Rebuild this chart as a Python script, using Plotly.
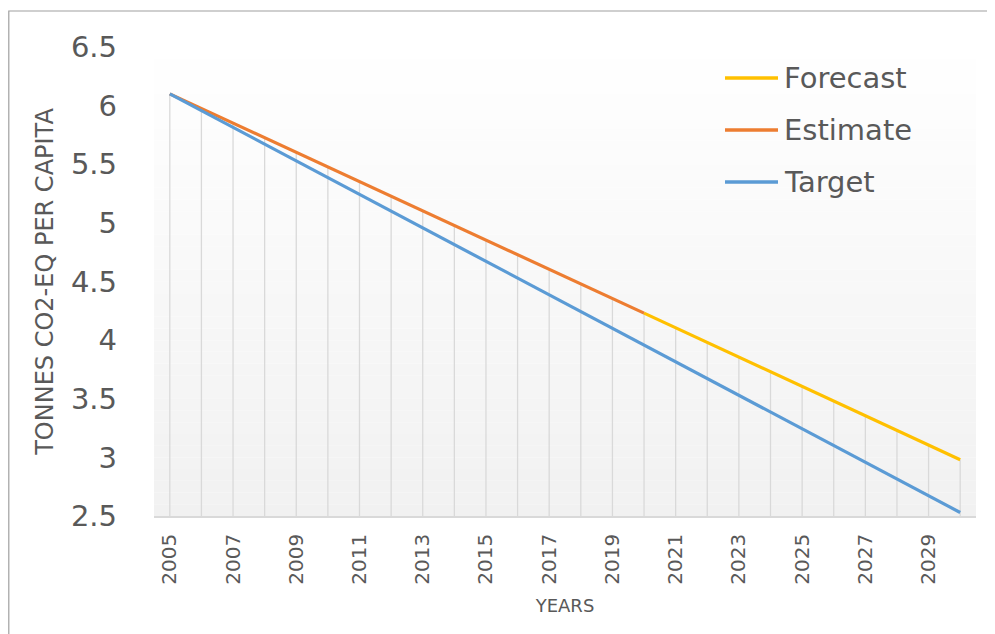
import plotly.graph_objects as go

years = list(range(2005, 2031))
target = [6.100, 5.957, 5.814, 5.672, 5.529, 5.386, 5.243, 5.100, 4.958, 4.815, 4.672,
          4.529, 4.386, 4.243, 4.101, 3.958, 3.815, 3.672, 3.529, 3.386, 3.244, 3.101,
          2.958, 2.815, 2.672, 2.530]
estimate_years = list(range(2005, 2021))
estimate = [6.100, 5.975, 5.851, 5.726, 5.601, 5.477, 5.352, 5.227, 5.103, 4.978,
            4.853, 4.729, 4.604, 4.479, 4.355, 4.230]
forecast_years = list(range(2020, 2031))
forecast = [4.230, 4.105, 3.980, 3.855, 3.730, 3.605, 3.480, 3.355, 3.230, 3.105, 2.980]

series_names = ["Forecast", "Estimate", "Target"]
series_colors = ["#FFC000", "#ED7D31", "#5B9BD5"]

y_min, y_max = 2.5, 6.5
y_ticks = [2.5, 3, 3.5, 4, 4.5, 5, 5.5, 6, 6.5]
x_ticktext = [str(y) if (y - 2005) % 2 == 0 else "" for y in years]

FONT = "DejaVu Sans"
TXT = "#595959"

# page offset (body margin) and target plot area in page pixels
OFF = 8
W, H = 995 - OFF, 634 - OFF
L, R, T, B = 154 - OFF, 976 - OFF, 47 - OFF, 516 - OFF
pw, ph = R - L, B - T


def px(x):
    return (x - OFF - L) / pw


def py(y):
    return (B - (y - OFF)) / ph


# drop lines: from the highest series value at each year down to the axis
top_at = {}
for xs, ys in ((years, target), (estimate_years, estimate), (forecast_years, forecast)):
    for xv, yv in zip(xs, ys):
        top_at[xv] = max(top_at.get(xv, yv_min := -1e9), yv)
drop_x, drop_y = [], []
for xv in years:
    drop_x += [xv, xv, None]
    drop_y += [top_at[xv], y_min, None]

fig = go.Figure()
fig.add_trace(go.Scatter(x=drop_x, y=drop_y, mode="lines", hoverinfo="skip",
                         line=dict(color="#D9D9D9", width=1.3), showlegend=False))
fig.add_trace(go.Scatter(x=forecast_years, y=forecast, mode="lines", name=series_names[0],
                         line=dict(color=series_colors[0], width=3.2)))
fig.add_trace(go.Scatter(x=estimate_years, y=estimate, mode="lines", name=series_names[1],
                         line=dict(color=series_colors[1], width=3.2)))
fig.add_trace(go.Scatter(x=years, y=target, mode="lines", name=series_names[2],
                         line=dict(color=series_colors[2], width=3.2)))

shapes = []
# gradient plot background
N = 40
for i in range(N):
    frac = (i + 0.5) / N  # 0 bottom -> 1 top
    v = int(round(241 + (255 - 241) * frac))
    shapes.append(dict(type="rect", xref="paper", yref="paper", x0=0, x1=1,
                       y0=i / N, y1=(i + 1) / N, fillcolor=f"rgb({v},{v},{v})",
                       line=dict(width=0), layer="below"))
# outer chart border
shapes.append(dict(type="rect", xref="paper", yref="paper",
                   x0=px(8.8), x1=px(1005), y0=py(11), y1=py(645),
                   line=dict(color="#A0A0A0", width=1.2), fillcolor="rgba(0,0,0,0)"))

annotations = []
leg_rows = [78, 130, 182]
for name, col, ry in zip(series_names, series_colors, leg_rows):
    shapes.append(dict(type="line", xref="paper", yref="paper",
                       x0=px(725), x1=px(778), y0=py(ry), y1=py(ry),
                       line=dict(color=col, width=3.5)))
    annotations.append(dict(text=name, xref="paper", yref="paper", x=px(782), y=py(ry),
                            xanchor="left", yanchor="middle", showarrow=False,
                            font=dict(family=FONT, size=29, color=TXT)))

fig.update_layout(
    width=W, height=H,
    margin=dict(l=L, r=W - R, t=T, b=H - B),
    paper_bgcolor="white", plot_bgcolor="rgba(0,0,0,0)",
    showlegend=False,
    shapes=shapes, annotations=annotations,
    font=dict(family=FONT, color=TXT),
)
fig.update_xaxes(
    range=[2004.5, 2030.5],
    tickmode="array", tickvals=years, ticktext=x_ticktext,
    tickangle=-90, tickfont=dict(family=FONT, size=20, color=TXT),
    ticks="", ticklabelstandoff=8,
    showgrid=False,
    showline=True, linecolor="#D9D9D9", linewidth=1.5,
    zeroline=False,
    title=dict(text="YEARS", font=dict(family=FONT, size=18, color=TXT), standoff=16),
)
fig.update_yaxes(
    range=[y_min, y_max],
    tickmode="array", tickvals=y_ticks,
    tickfont=dict(family=FONT, size=29, color=TXT),
    ticks="", ticklabelstandoff=36,
    showgrid=False, showline=False, zeroline=False,
    title=dict(text="TONNES CO2-EQ PER CAPITA", font=dict(family=FONT, size=24, color=TXT),
               standoff=10),
)

fig.write_html("out.html")
